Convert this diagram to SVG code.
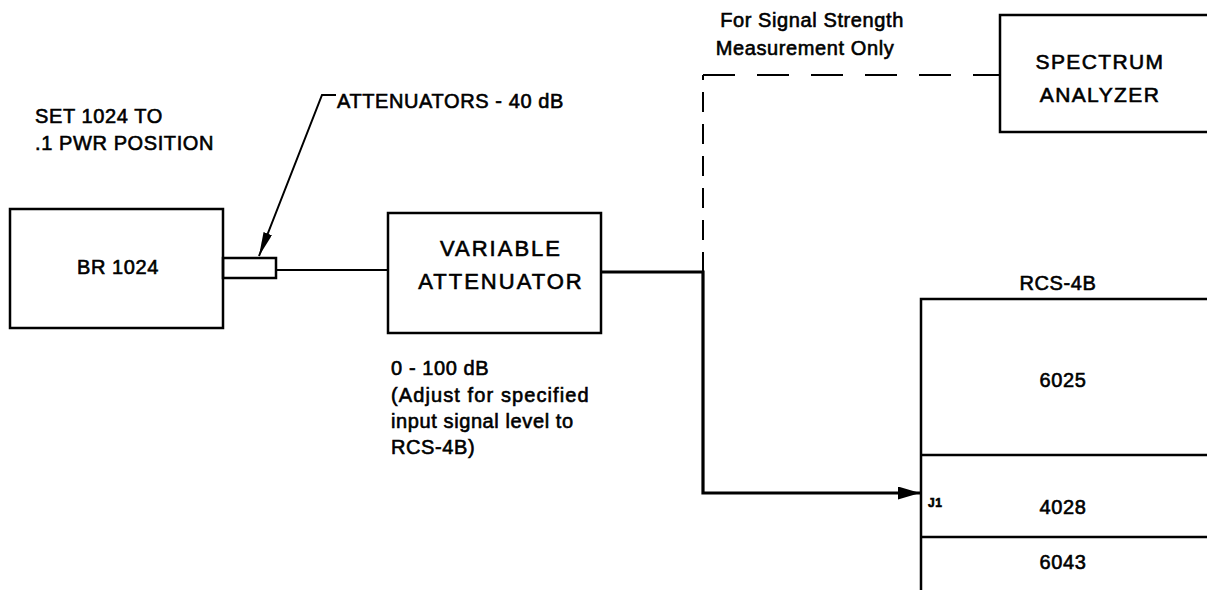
<svg xmlns="http://www.w3.org/2000/svg" width="1207" height="590" viewBox="0 0 1207 590">
<defs>
<style>
.t{font-family:"Liberation Sans",Arial,sans-serif;font-size:20px;fill:#000;stroke:#000;stroke-width:0.6;letter-spacing:0.6px}
.c{text-anchor:middle}
.big{font-size:22px;letter-spacing:2px}
.mid{font-size:21px;letter-spacing:1.4px}
.box{fill:none;stroke:#000;stroke-width:2.5}
.ln{fill:none;stroke:#000;stroke-width:2}
.dash{fill:none;stroke:#000;stroke-width:2}
</style>
<marker id="ah" viewBox="0 0 24 9" refX="24" refY="4.5" markerWidth="24" markerHeight="9" orient="auto" markerUnits="userSpaceOnUse"><path d="M0,0 L24,4.5 L0,9 z" fill="#000"/></marker>
<marker id="ah2" viewBox="0 0 22 13" refX="22" refY="6.5" markerWidth="22" markerHeight="13" orient="auto" markerUnits="userSpaceOnUse"><path d="M0,0 L22,6.5 L0,13 z" fill="#000"/></marker>
</defs>
<rect width="1207" height="590" fill="#fff"/>

<g id="note-set">
<text class="t" x="35" y="123">SET 1024 TO</text>
<text class="t" x="35" y="150">.1 PWR POSITION</text>
</g>

<g id="note-attenuators">
<text class="t" x="337" y="108">ATTENUATORS - 40 dB</text>
</g>

<g id="br1024">
<rect class="box" x="10" y="209" width="213" height="119"/>
<text class="t c" x="118" y="274">BR 1024</text>
<rect class="box" x="223" y="258" width="53" height="20"/>
</g>

<g id="variable-attenuator">
<rect class="box" x="388" y="213" width="213" height="120"/>
<text class="t c big" x="501" y="256">VARIABLE</text>
<text class="t c big" x="501" y="289">ATTENUATOR</text>
</g>

<g id="note-range">
<text class="t" x="391" y="375">0 - 100 dB</text>
<text class="t" x="391" y="402" style="letter-spacing:1.1px">(Adjust for specified</text>
<text class="t" x="391" y="428">input signal level to</text>
<text class="t" x="391" y="454">RCS-4B)</text>
</g>

<g id="spectrum-analyzer">
<rect class="box" x="1000" y="15" width="220" height="117"/>
<text class="t c mid" x="1100" y="69">SPECTRUM</text>
<text class="t c mid" x="1100" y="102">ANALYZER</text>
</g>

<g id="note-signal">
<text class="t c" x="812" y="27">For Signal Strength</text>
<text class="t c" x="805" y="55">Measurement Only</text>
</g>

<g id="rcs4b">
<text class="t c" x="1058" y="290">RCS-4B</text>
<path class="box" d="M1220,299 H921 V590"/>
<line class="box" x1="921" y1="455" x2="1220" y2="455"/>
<line class="box" x1="921" y1="537" x2="1220" y2="537"/>
<text class="t c" x="1063" y="387">6025</text>
<text class="t c" x="1063" y="514">4028</text>
<text class="t c" x="1063" y="569">6043</text>
<text class="t" x="928" y="507" style="font-size:12px;font-weight:bold;letter-spacing:0.5px">J1</text>
</g>

<g id="connectors">
<path class="ln" d="M336,95 H322 L259,256" marker-end="url(#ah)"/>
<line class="ln" x1="276" y1="270" x2="388" y2="270"/>
<path class="ln" d="M601,272 H703 V493 H920" style="stroke-width:3.2" marker-end="url(#ah2)"/>
<path class="dash" d="M703,272 V75" style="stroke-dasharray:20,12"/>
<path class="dash" d="M703,75 H1000" style="stroke-dasharray:32,22"/>
</g>
</svg>
